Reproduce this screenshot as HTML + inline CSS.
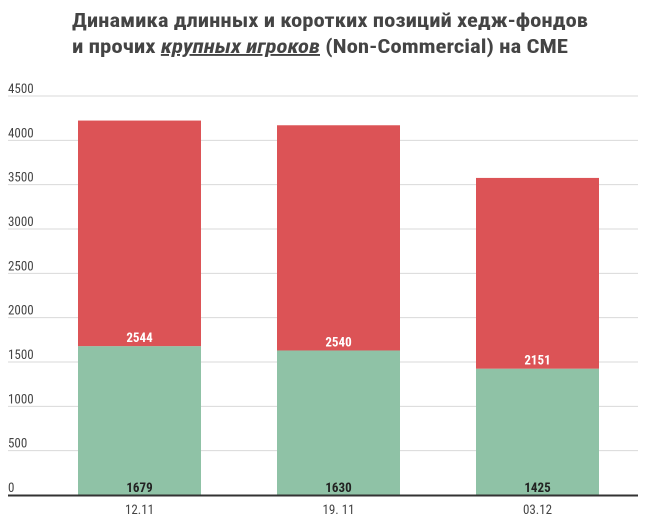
<!DOCTYPE html>
<html><head><meta charset="utf-8"><style>
body{margin:0;background:#fff}
svg{display:block;font-family:"Roboto Condensed","Liberation Sans",sans-serif}
</style></head><body>
<svg id="chart" width="654" height="522">
<text x="72" y="27" font-size="19" font-weight="bold" fill="#444" textLength="516" lengthAdjust="spacingAndGlyphs">Динамика длинных и коротких позиций хедж-фондов</text>
<text x="72" y="53" font-size="19" font-weight="bold" fill="#444" textLength="496" lengthAdjust="spacingAndGlyphs">и прочих <tspan font-style="italic" text-decoration="underline">крупных игроков</tspan> (Non-Commercial) на CME</text>
<g id="grid"></g><g id="bars"></g>
</svg>
<script>
const categories=["12.11","19. 11","03.12"];
const longVals=[1679,1630,1425];
const shortVals=[2544,2540,2151];
const ticks=[0,500,1000,1500,2000,2500,3000,3500,4000,4500];
const NS="http://www.w3.org/2000/svg";
const y=v=>495-v*(399/4500);
const xc=i=>139.5+i*199;
function mk(t,a,p,txt){const e=document.createElementNS(NS,t);for(const k in a)e.setAttribute(k,a[k]);if(txt!==undefined)e.textContent=txt;p.appendChild(e);return e;}
const g=document.getElementById('grid'),b=document.getElementById('bars');
ticks.forEach(t=>{
 if(t>0){const l=mk('line',{x1:8,x2:638,y1:y(t),y2:y(t),stroke:'#d9d9d9','stroke-width':1},g);
 
 }
 const tx=mk('text',{x:8,y:y(t)-3,'font-size':13,fill:'#444'},g,String(t));
 
 
});
categories.forEach((c,i)=>{
 const x0=xc(i)-61.5;
 const r1=mk('rect',{x:x0,y:y(longVals[i]),width:123,height:y(0)-y(longVals[i]),fill:'#8fc2a6'},b);
 
 
 const top=longVals[i]+shortVals[i];
 const r2=mk('rect',{x:x0,y:y(top),width:123,height:y(longVals[i])-y(top),fill:'#dc5356'},b);
 
 
 const l1=mk('text',{x:xc(i),y:y(0)-3,'font-size':13,'font-weight':'bold',fill:'#222','text-anchor':'middle'},b,String(longVals[i]));
 
 
 const l2=mk('text',{x:xc(i),y:y(longVals[i])-4,'font-size':13,'font-weight':'bold',fill:'#fff','text-anchor':'middle'},b,String(shortVals[i]));
 
 
 const cl=mk('text',{x:xc(i),y:514,'font-size':13,fill:'#444','text-anchor':'middle'},b,c);
 
 
});
const base=mk('line',{x1:8,x2:638,y1:y(0)+0.5,y2:y(0)+0.5,stroke:'#333','stroke-width':2},b);


</script>
</body></html>
